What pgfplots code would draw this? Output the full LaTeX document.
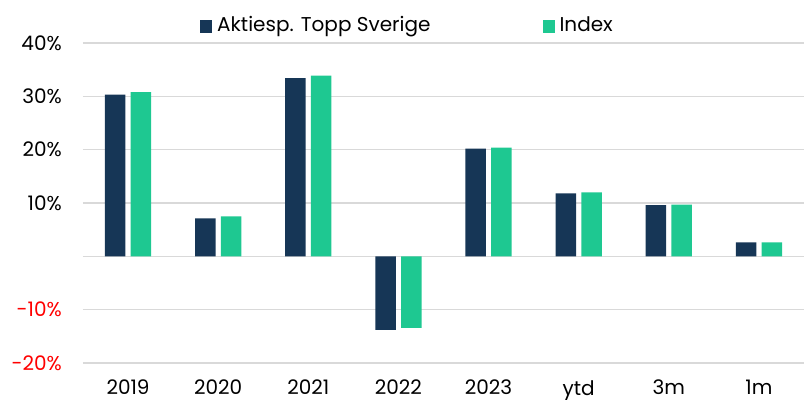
\documentclass[border=0pt]{standalone}
\usepackage{pgfplots}
\pgfplotsset{compat=1.18}
\usepackage{fontspec}
\setmainfont{Poppins}
\definecolor{navy}{HTML}{163656}
\definecolor{mint}{HTML}{1EC891}
\definecolor{gridgray}{HTML}{D9D9D9}
\begin{document}
\fontsize{20bp}{23bp}\selectfont
\begin{tikzpicture}
\begin{axis}[
  name=ax,
  at={(0,0)}, anchor=south west,
  scale only axis,
  width=721bp, height=320bp,
  xmin=-0.5, xmax=7.5,
  ymin=-20, ymax=40,
  axis line style={draw=none},
  ytick={-20,-10,0,10,20,30,40},
  yticklabels={\textcolor{red}{-20\%},\textcolor{red}{-10\%},,10\%,20\%,30\%,40\%},
  xtick={0,...,7},
  xticklabels={2019,2020,2021,2022,2023,ytd,3m,1m},
  major tick length=0pt,
  tick style={draw=none},
  ymajorgrids,
  grid style={gridgray, line width=1.6bp},
  yticklabel style={anchor=east, inner sep=0pt, xshift=-21bp},
  xticklabel style={anchor=north, inner sep=0pt, yshift=-17bp},
  legend style={at={(0.1623,1)}, anchor=south west, yshift=8bp, draw=none, fill=none,
    legend columns=2, inner sep=0pt, font=\fontsize{20bp}{23bp}\selectfont,
    /tikz/every even column/.append style={column sep=112bp},
    nodes={inner sep=0pt, anchor=base west, xshift=0bp}},
  legend image code/.code={\fill[#1] (0bp,-1bp) rectangle (12bp,12bp);},
  every axis plot/.append style={ybar, bar width=20.5bp, draw=none},
  clip=false,
]
\addplot[fill=navy, bar shift=-12.9bp] coordinates {
  (0,30.3) (1,7.1) (2,33.4) (3,-13.8) (4,20.2) (5,11.8) (6,9.6) (7,2.6)};
\addplot[fill=mint, bar shift=12.9bp] coordinates {
  (0,30.8) (1,7.5) (2,33.9) (3,-13.4) (4,20.4) (5,12.0) (6,9.7) (7,2.6)};
\legend{\hspace{5bp}Aktiesp. Topp Sverige, \hspace{5bp}Index}
\end{axis}
\pgfresetboundingbox
\useasboundingbox (-83bp,-37bp) rectangle (721bp,363bp);
\end{tikzpicture}
\end{document}
